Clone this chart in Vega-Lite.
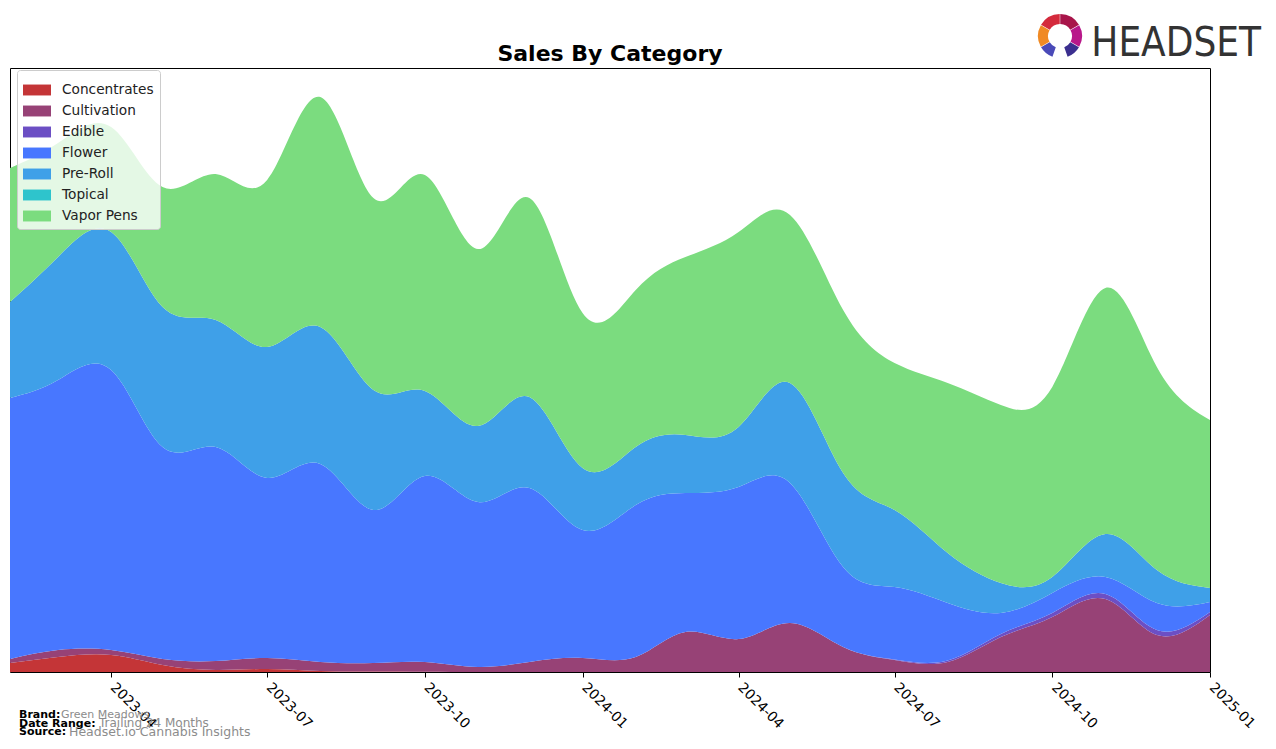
{
  "$schema": "https://vega.github.io/schema/vega-lite/v6.json",
  "width": 1200,
  "height": 604,
  "autosize": {"type": "none"},
  "padding": {"left": 10, "top": 68, "right": 66, "bottom": 77},
  "background": "white",
  "config": {"view": {"stroke": "black", "strokeWidth": 1}, "font": "DejaVu Sans"},
  "title": {"text": "Sales By Category", "fontSize": 22, "fontWeight": "bold", "font": "DejaVu Sans", "anchor": "middle", "offset": 4, "dy": 56, "color": "black"},
  "layer": [
    {
      "data": {"values": [
        {"date": "2023-02-01T00:00:00", "category": "Concentrates", "sales": 9},
        {"date": "2023-03-01T00:00:00", "category": "Concentrates", "sales": 15},
        {"date": "2023-04-01T00:00:00", "category": "Concentrates", "sales": 17},
        {"date": "2023-05-01T00:00:00", "category": "Concentrates", "sales": 7},
        {"date": "2023-06-01T00:00:00", "category": "Concentrates", "sales": 2},
        {"date": "2023-07-01T00:00:00", "category": "Concentrates", "sales": 3},
        {"date": "2023-08-01T00:00:00", "category": "Concentrates", "sales": 1},
        {"date": "2023-09-01T00:00:00", "category": "Concentrates", "sales": 0.5},
        {"date": "2023-10-01T00:00:00", "category": "Concentrates", "sales": 0.3},
        {"date": "2023-11-01T00:00:00", "category": "Concentrates", "sales": 0},
        {"date": "2023-12-01T00:00:00", "category": "Concentrates", "sales": 0},
        {"date": "2024-01-01T00:00:00", "category": "Concentrates", "sales": 0},
        {"date": "2024-02-01T00:00:00", "category": "Concentrates", "sales": 0},
        {"date": "2024-03-01T00:00:00", "category": "Concentrates", "sales": 0},
        {"date": "2024-04-01T00:00:00", "category": "Concentrates", "sales": 0},
        {"date": "2024-05-01T00:00:00", "category": "Concentrates", "sales": 0},
        {"date": "2024-06-01T00:00:00", "category": "Concentrates", "sales": 0},
        {"date": "2024-07-01T00:00:00", "category": "Concentrates", "sales": 0},
        {"date": "2024-08-01T00:00:00", "category": "Concentrates", "sales": 0},
        {"date": "2024-09-01T00:00:00", "category": "Concentrates", "sales": 0},
        {"date": "2024-10-01T00:00:00", "category": "Concentrates", "sales": 0},
        {"date": "2024-11-01T00:00:00", "category": "Concentrates", "sales": 0},
        {"date": "2024-12-01T00:00:00", "category": "Concentrates", "sales": 0},
        {"date": "2025-01-01T00:00:00", "category": "Concentrates", "sales": 0},

        {"date": "2023-02-01T00:00:00", "category": "Cultivation", "sales": 4},
        {"date": "2023-03-01T00:00:00", "category": "Cultivation", "sales": 7},
        {"date": "2023-04-01T00:00:00", "category": "Cultivation", "sales": 5},
        {"date": "2023-05-01T00:00:00", "category": "Cultivation", "sales": 6},
        {"date": "2023-06-01T00:00:00", "category": "Cultivation", "sales": 9},
        {"date": "2023-07-01T00:00:00", "category": "Cultivation", "sales": 11},
        {"date": "2023-08-01T00:00:00", "category": "Cultivation", "sales": 9},
        {"date": "2023-09-01T00:00:00", "category": "Cultivation", "sales": 8.5},
        {"date": "2023-10-01T00:00:00", "category": "Cultivation", "sales": 9.7},
        {"date": "2023-11-01T00:00:00", "category": "Cultivation", "sales": 5},
        {"date": "2023-12-01T00:00:00", "category": "Cultivation", "sales": 10},
        {"date": "2024-01-01T00:00:00", "category": "Cultivation", "sales": 14},
        {"date": "2024-02-01T00:00:00", "category": "Cultivation", "sales": 15},
        {"date": "2024-03-01T00:00:00", "category": "Cultivation", "sales": 40},
        {"date": "2024-04-01T00:00:00", "category": "Cultivation", "sales": 33},
        {"date": "2024-05-01T00:00:00", "category": "Cultivation", "sales": 49},
        {"date": "2024-06-01T00:00:00", "category": "Cultivation", "sales": 25},
        {"date": "2024-07-01T00:00:00", "category": "Cultivation", "sales": 12},
        {"date": "2024-08-01T00:00:00", "category": "Cultivation", "sales": 10},
        {"date": "2024-09-01T00:00:00", "category": "Cultivation", "sales": 35},
        {"date": "2024-10-01T00:00:00", "category": "Cultivation", "sales": 55},
        {"date": "2024-11-01T00:00:00", "category": "Cultivation", "sales": 73},
        {"date": "2024-12-01T00:00:00", "category": "Cultivation", "sales": 37},
        {"date": "2025-01-01T00:00:00", "category": "Cultivation", "sales": 57},

        {"date": "2023-02-01T00:00:00", "category": "Edible", "sales": 0},
        {"date": "2023-03-01T00:00:00", "category": "Edible", "sales": 0},
        {"date": "2023-04-01T00:00:00", "category": "Edible", "sales": 0},
        {"date": "2023-05-01T00:00:00", "category": "Edible", "sales": 0},
        {"date": "2023-06-01T00:00:00", "category": "Edible", "sales": 0},
        {"date": "2023-07-01T00:00:00", "category": "Edible", "sales": 0},
        {"date": "2023-08-01T00:00:00", "category": "Edible", "sales": 0},
        {"date": "2023-09-01T00:00:00", "category": "Edible", "sales": 0},
        {"date": "2023-10-01T00:00:00", "category": "Edible", "sales": 0},
        {"date": "2023-11-01T00:00:00", "category": "Edible", "sales": 0},
        {"date": "2023-12-01T00:00:00", "category": "Edible", "sales": 0},
        {"date": "2024-01-01T00:00:00", "category": "Edible", "sales": 0},
        {"date": "2024-02-01T00:00:00", "category": "Edible", "sales": 0},
        {"date": "2024-03-01T00:00:00", "category": "Edible", "sales": 0},
        {"date": "2024-04-01T00:00:00", "category": "Edible", "sales": 0},
        {"date": "2024-05-01T00:00:00", "category": "Edible", "sales": 0},
        {"date": "2024-06-01T00:00:00", "category": "Edible", "sales": 0},
        {"date": "2024-07-01T00:00:00", "category": "Edible", "sales": 0.5},
        {"date": "2024-08-01T00:00:00", "category": "Edible", "sales": 1.5},
        {"date": "2024-09-01T00:00:00", "category": "Edible", "sales": 3},
        {"date": "2024-10-01T00:00:00", "category": "Edible", "sales": 4},
        {"date": "2024-11-01T00:00:00", "category": "Edible", "sales": 5},
        {"date": "2024-12-01T00:00:00", "category": "Edible", "sales": 5},
        {"date": "2025-01-01T00:00:00", "category": "Edible", "sales": 3},

        {"date": "2023-02-01T00:00:00", "category": "Flower", "sales": 261},
        {"date": "2023-03-01T00:00:00", "category": "Flower", "sales": 270},
        {"date": "2023-04-01T00:00:00", "category": "Flower", "sales": 280},
        {"date": "2023-05-01T00:00:00", "category": "Flower", "sales": 212},
        {"date": "2023-06-01T00:00:00", "category": "Flower", "sales": 214},
        {"date": "2023-07-01T00:00:00", "category": "Flower", "sales": 180},
        {"date": "2023-08-01T00:00:00", "category": "Flower", "sales": 198},
        {"date": "2023-09-01T00:00:00", "category": "Flower", "sales": 153},
        {"date": "2023-10-01T00:00:00", "category": "Flower", "sales": 186},
        {"date": "2023-11-01T00:00:00", "category": "Flower", "sales": 165},
        {"date": "2023-12-01T00:00:00", "category": "Flower", "sales": 174},
        {"date": "2024-01-01T00:00:00", "category": "Flower", "sales": 128},
        {"date": "2024-02-01T00:00:00", "category": "Flower", "sales": 152},
        {"date": "2024-03-01T00:00:00", "category": "Flower", "sales": 139},
        {"date": "2024-04-01T00:00:00", "category": "Flower", "sales": 152},
        {"date": "2024-05-01T00:00:00", "category": "Flower", "sales": 140},
        {"date": "2024-06-01T00:00:00", "category": "Flower", "sales": 80},
        {"date": "2024-07-01T00:00:00", "category": "Flower", "sales": 72.5},
        {"date": "2024-08-01T00:00:00", "category": "Flower", "sales": 57.5},
        {"date": "2024-09-01T00:00:00", "category": "Flower", "sales": 21},
        {"date": "2024-10-01T00:00:00", "category": "Flower", "sales": 20},
        {"date": "2024-11-01T00:00:00", "category": "Flower", "sales": 17},
        {"date": "2024-12-01T00:00:00", "category": "Flower", "sales": 27},
        {"date": "2025-01-01T00:00:00", "category": "Flower", "sales": 10},

        {"date": "2023-02-01T00:00:00", "category": "Pre-Roll", "sales": 96},
        {"date": "2023-03-01T00:00:00", "category": "Pre-Roll", "sales": 123},
        {"date": "2023-04-01T00:00:00", "category": "Pre-Roll", "sales": 138},
        {"date": "2023-05-01T00:00:00", "category": "Pre-Roll", "sales": 140},
        {"date": "2023-06-01T00:00:00", "category": "Pre-Roll", "sales": 127},
        {"date": "2023-07-01T00:00:00", "category": "Pre-Roll", "sales": 131},
        {"date": "2023-08-01T00:00:00", "category": "Pre-Roll", "sales": 137},
        {"date": "2023-09-01T00:00:00", "category": "Pre-Roll", "sales": 120},
        {"date": "2023-10-01T00:00:00", "category": "Pre-Roll", "sales": 85},
        {"date": "2023-11-01T00:00:00", "category": "Pre-Roll", "sales": 76},
        {"date": "2023-12-01T00:00:00", "category": "Pre-Roll", "sales": 91},
        {"date": "2024-01-01T00:00:00", "category": "Pre-Roll", "sales": 62},
        {"date": "2024-02-01T00:00:00", "category": "Pre-Roll", "sales": 58},
        {"date": "2024-03-01T00:00:00", "category": "Pre-Roll", "sales": 58},
        {"date": "2024-04-01T00:00:00", "category": "Pre-Roll", "sales": 60},
        {"date": "2024-05-01T00:00:00", "category": "Pre-Roll", "sales": 100},
        {"date": "2024-06-01T00:00:00", "category": "Pre-Roll", "sales": 94},
        {"date": "2024-07-01T00:00:00", "category": "Pre-Roll", "sales": 77},
        {"date": "2024-08-01T00:00:00", "category": "Pre-Roll", "sales": 50},
        {"date": "2024-09-01T00:00:00", "category": "Pre-Roll", "sales": 30},
        {"date": "2024-10-01T00:00:00", "category": "Pre-Roll", "sales": 16},
        {"date": "2024-11-01T00:00:00", "category": "Pre-Roll", "sales": 43},
        {"date": "2024-12-01T00:00:00", "category": "Pre-Roll", "sales": 33},
        {"date": "2025-01-01T00:00:00", "category": "Pre-Roll", "sales": 14},

        {"date": "2023-02-01T00:00:00", "category": "Topical", "sales": 0},
        {"date": "2023-03-01T00:00:00", "category": "Topical", "sales": 0},
        {"date": "2023-04-01T00:00:00", "category": "Topical", "sales": 0},
        {"date": "2023-05-01T00:00:00", "category": "Topical", "sales": 0},
        {"date": "2023-06-01T00:00:00", "category": "Topical", "sales": 0},
        {"date": "2023-07-01T00:00:00", "category": "Topical", "sales": 0},
        {"date": "2023-08-01T00:00:00", "category": "Topical", "sales": 0},
        {"date": "2023-09-01T00:00:00", "category": "Topical", "sales": 0},
        {"date": "2023-10-01T00:00:00", "category": "Topical", "sales": 0},
        {"date": "2023-11-01T00:00:00", "category": "Topical", "sales": 0},
        {"date": "2023-12-01T00:00:00", "category": "Topical", "sales": 0},
        {"date": "2024-01-01T00:00:00", "category": "Topical", "sales": 0},
        {"date": "2024-02-01T00:00:00", "category": "Topical", "sales": 0},
        {"date": "2024-03-01T00:00:00", "category": "Topical", "sales": 0},
        {"date": "2024-04-01T00:00:00", "category": "Topical", "sales": 0},
        {"date": "2024-05-01T00:00:00", "category": "Topical", "sales": 0},
        {"date": "2024-06-01T00:00:00", "category": "Topical", "sales": 0},
        {"date": "2024-07-01T00:00:00", "category": "Topical", "sales": 0},
        {"date": "2024-08-01T00:00:00", "category": "Topical", "sales": 0},
        {"date": "2024-09-01T00:00:00", "category": "Topical", "sales": 0},
        {"date": "2024-10-01T00:00:00", "category": "Topical", "sales": 0},
        {"date": "2024-11-01T00:00:00", "category": "Topical", "sales": 0},
        {"date": "2024-12-01T00:00:00", "category": "Topical", "sales": 0},
        {"date": "2025-01-01T00:00:00", "category": "Topical", "sales": 0},

        {"date": "2023-02-01T00:00:00", "category": "Vapor Pens", "sales": 134},
        {"date": "2023-03-01T00:00:00", "category": "Vapor Pens", "sales": 114},
        {"date": "2023-04-01T00:00:00", "category": "Vapor Pens", "sales": 105},
        {"date": "2023-05-01T00:00:00", "category": "Vapor Pens", "sales": 120},
        {"date": "2023-06-01T00:00:00", "category": "Vapor Pens", "sales": 146},
        {"date": "2023-07-01T00:00:00", "category": "Vapor Pens", "sales": 167},
        {"date": "2023-08-01T00:00:00", "category": "Vapor Pens", "sales": 230},
        {"date": "2023-09-01T00:00:00", "category": "Vapor Pens", "sales": 192},
        {"date": "2023-10-01T00:00:00", "category": "Vapor Pens", "sales": 216},
        {"date": "2023-11-01T00:00:00", "category": "Vapor Pens", "sales": 177},
        {"date": "2023-12-01T00:00:00", "category": "Vapor Pens", "sales": 199},
        {"date": "2024-01-01T00:00:00", "category": "Vapor Pens", "sales": 155},
        {"date": "2024-02-01T00:00:00", "category": "Vapor Pens", "sales": 157},
        {"date": "2024-03-01T00:00:00", "category": "Vapor Pens", "sales": 178},
        {"date": "2024-04-01T00:00:00", "category": "Vapor Pens", "sales": 195},
        {"date": "2024-05-01T00:00:00", "category": "Vapor Pens", "sales": 168},
        {"date": "2024-06-01T00:00:00", "category": "Vapor Pens", "sales": 163},
        {"date": "2024-07-01T00:00:00", "category": "Vapor Pens", "sales": 147},
        {"date": "2024-08-01T00:00:00", "category": "Vapor Pens", "sales": 170},
        {"date": "2024-09-01T00:00:00", "category": "Vapor Pens", "sales": 178},
        {"date": "2024-10-01T00:00:00", "category": "Vapor Pens", "sales": 190},
        {"date": "2024-11-01T00:00:00", "category": "Vapor Pens", "sales": 246},
        {"date": "2024-12-01T00:00:00", "category": "Vapor Pens", "sales": 203},
        {"date": "2025-01-01T00:00:00", "category": "Vapor Pens", "sales": 168}
      ]},
      "mark": {"type": "area", "interpolate": "natural"},
      "encoding": {
        "x": {
          "field": "date", "type": "temporal",
          "scale": {"domain": [{"year": 2023, "month": 2, "date": 1}, {"year": 2025, "month": 1, "date": 1}], "nice": false},
          "axis": {
            "values": [
              {"year": 2023, "month": 4, "date": 1}, {"year": 2023, "month": 7, "date": 1},
              {"year": 2023, "month": 10, "date": 1}, {"year": 2024, "month": 1, "date": 1},
              {"year": 2024, "month": 4, "date": 1}, {"year": 2024, "month": 7, "date": 1},
              {"year": 2024, "month": 10, "date": 1}, {"year": 2025, "month": 1, "date": 1}
            ],
            "format": "%Y-%m",
            "labelAngle": 45, "labelAlign": "left", "labelBaseline": "top",
            "labelFontSize": 13.9, "labelFont": "DejaVu Sans", "labelColor": "black",
            "labelPadding": 3, "labelOffset": 6, "labelOverlap": false, "labelFlush": false, "labelBound": false,
            "tickColor": "black", "tickSize": 5, "tickWidth": 1,
            "domain": false, "grid": false, "title": null
          }
        },
        "y": {
          "field": "sales", "type": "quantitative", "stack": "zero",
          "scale": {"domain": [0, 604], "nice": false, "zero": true},
          "axis": null
        },
        "order": {"field": "category", "type": "nominal", "sort": "ascending"},
        "color": {
          "field": "category", "type": "nominal",
          "scale": {
            "domain": ["Concentrates", "Cultivation", "Edible", "Flower", "Pre-Roll", "Topical", "Vapor Pens"],
            "range": ["#c43537", "#974276", "#6c4fc4", "#4877ff", "#3fa0e8", "#2ec4cc", "#7bdc7f"]
          },
          "legend": {
            "orient": "none", "legendX": 7, "legendY": 2, "title": null,
            "fillColor": "rgba(255,255,255,0.8)", "strokeColor": "#cccccc", "cornerRadius": 3,
            "padding": 6,
            "symbolType": "M-1,-0.39H1V0.39H-1Z", "symbolSize": 784, "symbolStrokeWidth": 0, "symbolOpacity": 1,
            "labelFontSize": 13.7, "labelFont": "DejaVu Sans", "labelColor": "#222222", "labelOffset": 11,
            "rowPadding": -0.2
          }
        }
      }
    },
    {
      "data": {"values": [{}]},
      "mark": {"type": "text", "text": "Brand:", "fontWeight": "bold", "fontSize": 11, "font": "DejaVu Sans", "align": "left", "baseline": "alphabetic", "color": "black"},
      "encoding": {"x": {"value": 9}, "y": {"value": 650.3}}
    },
    {
      "data": {"values": [{}]},
      "mark": {"type": "text", "text": "Green Meadows", "fontSize": 11, "font": "DejaVu Sans", "align": "left", "baseline": "alphabetic", "color": "#8c8c8c"},
      "encoding": {"x": {"value": 51}, "y": {"value": 650.3}}
    },
    {
      "data": {"values": [{}]},
      "mark": {"type": "text", "text": "Date Range:", "fontWeight": "bold", "fontSize": 11, "font": "DejaVu Sans", "align": "left", "baseline": "alphabetic", "color": "black"},
      "encoding": {"x": {"value": 9}, "y": {"value": 658.5}}
    },
    {
      "data": {"values": [{}]},
      "mark": {"type": "text", "text": "Trailing 24 Months", "fontSize": 12, "font": "DejaVu Sans", "align": "left", "baseline": "alphabetic", "color": "#8c8c8c"},
      "encoding": {"x": {"value": 89}, "y": {"value": 659.3}}
    },
    {
      "data": {"values": [{}]},
      "mark": {"type": "text", "text": "Source:", "fontWeight": "bold", "fontSize": 11, "font": "DejaVu Sans", "align": "left", "baseline": "alphabetic", "color": "black"},
      "encoding": {"x": {"value": 9}, "y": {"value": 667}}
    },
    {
      "data": {"values": [{}]},
      "mark": {"type": "text", "text": "Headset.io Cannabis Insights", "fontSize": 12.5, "font": "DejaVu Sans", "align": "left", "baseline": "alphabetic", "color": "#8c8c8c"},
      "encoding": {"x": {"value": 59}, "y": {"value": 667.5}}
    },
    {
      "data": {"values": [{}]},
      "mark": {"type": "text", "text": "HEADSET", "fontSize": 40, "font": "'Liberation Sans Narrow', 'DejaVu Sans Condensed', 'Liberation Sans', sans-serif", "align": "right", "baseline": "alphabetic", "color": "#333333"},
      "encoding": {"x": {"value": 1251}, "y": {"value": -12}}
    },
    {
      "data": {"values": [{}]},
      "mark": {"type": "arc", "theta": -1.05, "theta2": 0, "radius": 22, "radius2": 12, "color": "#d42a3c", "padAngle": 0.02},
      "encoding": {"x": {"value": 1050}, "y": {"value": -32}}
    },
    {
      "data": {"values": [{}]},
      "mark": {"type": "arc", "theta": 0, "theta2": 1.05, "radius": 22, "radius2": 12, "color": "#a8154a", "padAngle": 0.02},
      "encoding": {"x": {"value": 1050}, "y": {"value": -32}}
    },
    {
      "data": {"values": [{}]},
      "mark": {"type": "arc", "theta": 1.05, "theta2": 2.09, "radius": 22, "radius2": 12, "color": "#b8188a", "padAngle": 0.02},
      "encoding": {"x": {"value": 1050}, "y": {"value": -32}}
    },
    {
      "data": {"values": [{}]},
      "mark": {"type": "arc", "theta": 2.09, "theta2": 2.8, "radius": 22, "radius2": 12, "color": "#3b2f8f", "padAngle": 0.02},
      "encoding": {"x": {"value": 1050}, "y": {"value": -32}}
    },
    {
      "data": {"values": [{}]},
      "mark": {"type": "arc", "theta": 3.48, "theta2": 4.19, "radius": 22, "radius2": 12, "color": "#4a4ab8", "padAngle": 0.02},
      "encoding": {"x": {"value": 1050}, "y": {"value": -32}}
    },
    {
      "data": {"values": [{}]},
      "mark": {"type": "arc", "theta": 4.19, "theta2": 5.24, "radius": 22, "radius2": 12, "color": "#f08a24", "padAngle": 0.02},
      "encoding": {"x": {"value": 1050}, "y": {"value": -32}}
    }
  ]
}
